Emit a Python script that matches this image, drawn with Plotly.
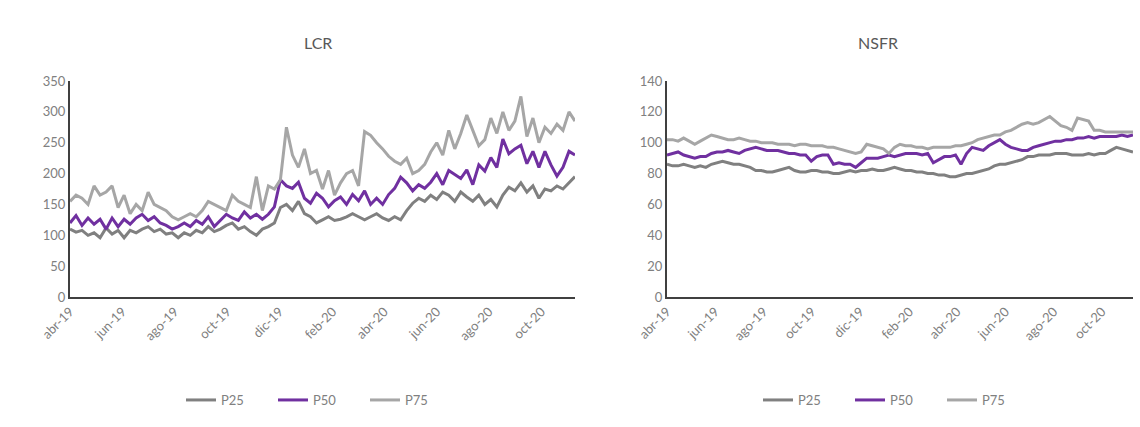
import pandas as pd
import plotly.graph_objects as go

# Weekly observations, April 2019 - November 2020
dates = pd.date_range("2019-04-01", periods=85, freq="7D")

tick_dates = ["2019-04-01", "2019-06-01", "2019-08-01", "2019-10-01", "2019-12-01",
              "2020-02-01", "2020-04-01", "2020-06-01", "2020-08-01", "2020-10-01"]
tick_labels = ["abr-19", "jun-19", "ago-19", "oct-19", "dic-19",
               "feb-20", "abr-20", "jun-20", "ago-20", "oct-20"]

lcr_p25 = [110, 105, 108, 100, 104, 96, 112, 102, 108, 96,
           108, 104, 110, 114, 106, 110, 102, 104, 96, 104,
           100, 108, 104, 114, 106, 110, 116, 120, 110, 114,
           106, 100, 110, 114, 120, 145, 150, 140, 155, 135,
           130, 120, 125, 130, 124, 126, 130, 135, 130, 125,
           130, 135, 128, 124, 130, 125, 140, 152, 160, 155,
           165, 158, 170, 165, 155, 170, 162, 155, 165, 150,
           158, 146, 165, 178, 172, 185, 170, 180, 160, 175,
           172, 180, 175, 185, 195]
lcr_p50 = [120, 132, 116, 128, 118, 126, 110, 128, 114, 126,
           118, 128, 134, 124, 130, 120, 116, 110, 114, 120,
           114, 124, 118, 130, 114, 124, 134, 128, 124, 138,
           128, 134, 126, 134, 146, 190, 180, 176, 186, 160,
           152, 168, 160, 146, 156, 162, 150, 166, 156, 172,
           150, 160, 150, 166, 176, 194, 185, 172, 182, 176,
           186, 200, 182, 205, 198, 192, 206, 182, 214, 204,
           226, 210, 256, 232, 240, 246, 216, 236, 210, 236,
           214, 196, 210, 236, 230]
lcr_p75 = [155, 165, 160, 150, 180, 165, 170, 180, 145, 165,
           135, 150, 140, 170, 150, 145, 140, 130, 125, 130,
           135, 130, 140, 155, 150, 145, 140, 165, 155, 150,
           145, 195, 140, 180, 175, 190, 275, 230, 210, 240,
           200, 205, 175, 205, 165, 185, 200, 205, 180, 268,
           262, 250, 240, 228, 220, 215, 225, 200, 205, 215,
           235, 250, 230, 270, 240, 265, 295, 270, 245, 255,
           290, 265, 300, 270, 285, 325, 260, 290, 250, 275,
           265, 280, 270, 300, 285]

nsfr_p25 = [86, 85, 85, 86, 85, 84, 85, 84, 86, 87,
            88, 87, 86, 86, 85, 84, 82, 82, 81, 81,
            82, 83, 84, 82, 81, 81, 82, 82, 81, 81,
            80, 80, 81, 82, 81, 82, 82, 83, 82, 82,
            83, 84, 83, 82, 82, 81, 81, 80, 80, 79,
            79, 78, 78, 79, 80, 80, 81, 82, 83, 85,
            86, 86, 87, 88, 89, 91, 91, 92, 92, 92,
            93, 93, 93, 92, 92, 92, 93, 92, 93, 93,
            95, 97, 96, 95, 94]
nsfr_p50 = [92, 93, 94, 92, 91, 90, 91, 91, 93, 94,
            94, 95, 94, 93, 95, 96, 97, 96, 95, 95,
            95, 94, 93, 93, 92, 92, 88, 91, 92, 92,
            86, 87, 86, 86, 84, 87, 90, 90, 90, 91,
            92, 91, 92, 93, 93, 93, 92, 93, 87, 89,
            91, 91, 92, 86, 93, 97, 96, 95, 98, 100,
            102, 99, 97, 96, 95, 95, 97, 98, 99, 100,
            101, 101, 102, 102, 103, 103, 104, 103, 104, 104,
            104, 104, 105, 104, 105]
nsfr_p75 = [102, 102, 101, 103, 101, 99, 101, 103, 105, 104,
            103, 102, 102, 103, 102, 101, 101, 100, 100, 100,
            99, 99, 99, 98, 99, 99, 98, 98, 98, 97,
            97, 96, 95, 94, 93, 94, 99, 98, 97, 96,
            93, 97, 99, 98, 98, 97, 97, 96, 97, 97,
            97, 97, 98, 98, 99, 100, 102, 103, 104, 105,
            105, 107, 108, 110, 112, 113, 112, 113, 115, 117,
            114, 111, 110, 108, 116, 115, 114, 108, 108, 107,
            107, 107, 107, 107, 107]

series_names = ["P25", "P50", "P75"]
colors = {"P25": "#808080", "P50": "#7030A0", "P75": "#A6A6A6"}

FONT = "Lato, 'Open Sans', sans-serif"
TXT = "#808080"
W, H = 1140, 427

fig = go.Figure()

panels = [
    ("x", "y", "legend", [lcr_p25, lcr_p50, lcr_p75]),
    ("x2", "y2", "legend2", [nsfr_p25, nsfr_p50, nsfr_p75]),
]
for xa, ya, leg, values in panels:
    for name, vals in zip(series_names, values):
        fig.add_trace(go.Scatter(
            x=dates, y=vals, name=name, mode="lines",
            line=dict(color=colors[name], width=3),
            xaxis=xa, yaxis=ya, legend=leg,
        ))

# plot area: from 81 px to 297 px below the top edge
y_dom = [(H - 297) / H, (H - 81) / H]

xaxis_common = dict(
    type="date",
    range=["2019-04-01", "2020-11-09"],
    tickvals=tick_dates, ticktext=tick_labels,
    tickangle=-45, showgrid=False, zeroline=False,
    showline=True, linecolor="#404040", linewidth=2,
    ticks="", automargin=False,
    tickfont=dict(family=FONT, size=13, color=TXT),
)
yaxis_common = dict(
    showgrid=False, zeroline=False,
    showline=True, linecolor="#404040", linewidth=2,
    ticks="", automargin=False,
    tickfont=dict(family=FONT, size=13, color=TXT),
    domain=y_dom,
)

legend_common = dict(
    orientation="h", xanchor="left", yanchor="middle",
    font=dict(family=FONT, size=13, color=TXT),
    bgcolor="rgba(0,0,0,0)",
    entrywidth=47, entrywidthmode="pixels",
)

title_font = dict(family=FONT, size=16, color="#595959")

fig.update_layout(
    template="none",
    width=W, height=H,
    margin=dict(l=0, r=0, t=0, b=0, pad=0),
    paper_bgcolor="white", plot_bgcolor="white",
    xaxis=dict(xaxis_common, domain=[70 / W, 575 / W], anchor="y"),
    yaxis=dict(yaxis_common, range=[0, 350], dtick=50, anchor="x"),
    xaxis2=dict(xaxis_common, domain=[667 / W, 1133 / W], anchor="y2"),
    yaxis2=dict(yaxis_common, range=[0, 140], dtick=20, anchor="x2"),
    legend=dict(legend_common, x=181 / W, y=(H - 400) / H),
    legend2=dict(legend_common, x=758 / W, y=(H - 400) / H),
    annotations=[
        dict(text="LCR", x=318 / W, y=(H - 42) / H, xref="paper", yref="paper",
             xanchor="center", yanchor="middle", showarrow=False, font=title_font),
        dict(text="NSFR", x=878 / W, y=(H - 42) / H, xref="paper", yref="paper",
             xanchor="center", yanchor="middle", showarrow=False, font=title_font),
    ],
)

fig.write_html("out.html")
